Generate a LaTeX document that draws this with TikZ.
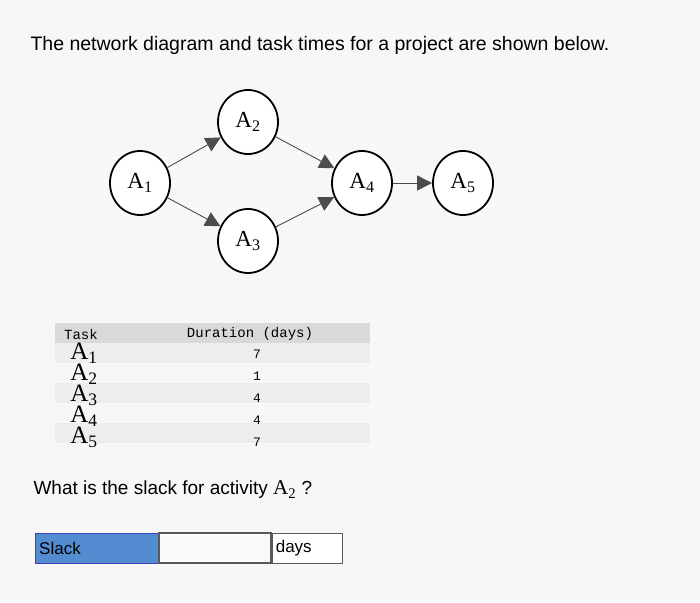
\documentclass[tikz,border=0pt]{standalone}
\usepackage{fontspec}
\setmainfont{Liberation Sans}
\newfontfamily\serifA{Liberation Serif}
\newfontfamily\monoA{Liberation Mono}
\usetikzlibrary{arrows.meta,shapes.geometric}
\definecolor{slackblue}{RGB}{84,140,210}
\begin{document}
\begin{tikzpicture}[x=1pt,y=-1pt,
  act/.style={draw,line width=1.8pt,ellipse,minimum width=60pt,minimum height=64pt,inner sep=0pt,font=\serifA\fontsize{23}{23}\selectfont,fill=white},
  con/.style={line width=0.9pt,gray!60!black,-{Triangle[length=15pt,width=15pt]}},
  tA/.style={font=\serifA\fontsize{25}{25}\selectfont,inner sep=0pt},
  num/.style={font=\monoA\fontsize{13}{13}\selectfont,inner sep=0pt}]
\useasboundingbox[fill=gray!6] (0,0) rectangle (700,602);
\node[anchor=west,font=\fontsize{19.5}{19.5}\selectfont] (title) at (27,45) {The network diagram and task times for a project are shown below.};
\node[act] (a1) at (140,183) {A\textsubscript{1}};
\node[act] (a2) at (248,122) {A\textsubscript{2}};
\node[act] (a3) at (248,241) {A\textsubscript{3}};
\node[act] (a4) at (362,183) {A\textsubscript{4}};
\node[act] (a5) at (463,183) {A\textsubscript{5}};
\draw[con] (a1) -- (a2);
\draw[con] (a1) -- (a3);
\draw[con] (a2) -- (a4);
\draw[con] (a3) -- (a4);
\draw[con] (a4) -- (a5);
% table
\fill[gray!30] (55,323) rectangle (370,343);
\foreach \y in {343,383,423}{\fill[gray!14] (55,\y) rectangle (370,\y+20);}
\node[num,font=\monoA\fontsize{14}{14}\selectfont] (th) at (81,334) {Task};
\node[num,font=\monoA\fontsize{14}{14}\selectfont] (dh) at (250,334) {Duration (days)};
\node[tA] (t1) at (84,353) {A\textsubscript{1}};
\node[tA] (t2) at (84,374) {A\textsubscript{2}};
\node[tA] (t3) at (84,395) {A\textsubscript{3}};
\node[tA] (t4) at (84,416) {A\textsubscript{4}};
\node[tA] (t5) at (84,437) {A\textsubscript{5}};
\node[num] (d1) at (257,354) {7};
\node[num] (d2) at (257,376) {1};
\node[num] (d3) at (257,398) {4};
\node[num] (d4) at (257,420) {4};
\node[num] (d5) at (257,442) {7};
\node[anchor=west,font=\fontsize{19}{19}\selectfont] (q) at (30,490) {What is the slack for activity {\serifA\fontsize{21}{21}\selectfont A\textsubscript{2}} ?};
% slack
\node[draw=blue!50!gray,fill=slackblue,minimum width=123pt,minimum height=30pt,anchor=west,inner sep=4pt,font=\fontsize{17}{17}\selectfont,text width=115pt] (sl) at (35,548) {Slack};
\node[draw=gray!70!black,line width=1.2pt,fill=gray!4,minimum width=112pt,minimum height=30pt,anchor=west] (in) at (sl.east) {};
\node[draw=gray!70!black,fill=white,minimum width=70pt,minimum height=30pt,anchor=west,font=\fontsize{17}{17}\selectfont,text width=62pt,inner sep=3pt] (dy) at (in.east) {days};
\end{tikzpicture}
\end{document}
